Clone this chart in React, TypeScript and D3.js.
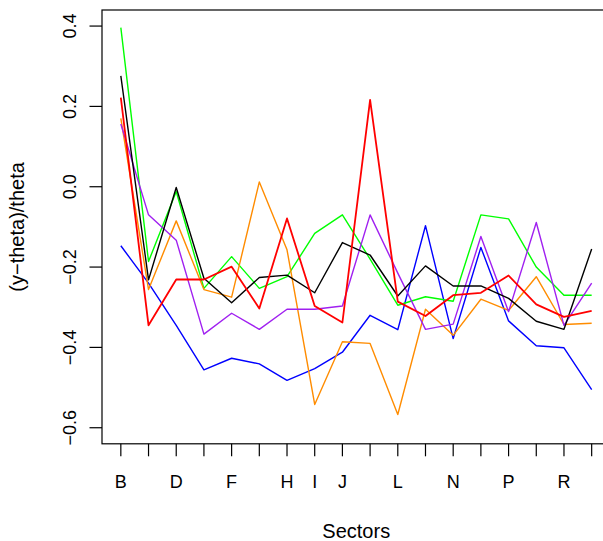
import React, { useEffect, useRef } from 'react';
import * as d3 from 'd3';

// sectors on the x axis (B..S)
const sectors = ['B', 'C', 'D', 'E', 'F', 'G', 'H', 'I', 'J', 'K', 'L', 'M', 'N', 'O', 'P', 'Q', 'R', 'S'];

// (y-theta)/theta per sector, one array per series
const blueVals = [-0.147, -0.24, -0.345, -0.456, -0.427, -0.441, -0.482, -0.453, -0.412, -0.32, -0.356, -0.097, -0.378, -0.151, -0.334, -0.396, -0.401, -0.505];
const greenVals = [0.396, -0.186, -0.012, -0.253, -0.174, -0.253, -0.224, -0.116, -0.07, -0.18, -0.295, -0.274, -0.285, -0.07, -0.08, -0.2, -0.27, -0.27];
const blackVals = [0.276, -0.232, -0.002, -0.228, -0.289, -0.226, -0.22, -0.264, -0.139, -0.17, -0.272, -0.197, -0.247, -0.247, -0.278, -0.335, -0.355, -0.155];
const orangeVals = [0.17, -0.256, -0.085, -0.256, -0.275, 0.012, -0.157, -0.542, -0.386, -0.39, -0.567, -0.305, -0.37, -0.28, -0.308, -0.224, -0.343, -0.34];
const purpleVals = [0.156, -0.07, -0.133, -0.367, -0.315, -0.355, -0.305, -0.305, -0.297, -0.07, -0.215, -0.355, -0.342, -0.124, -0.311, -0.089, -0.345, -0.24];
const redVals = [0.222, -0.345, -0.231, -0.231, -0.199, -0.303, -0.079, -0.297, -0.338, 0.216, -0.286, -0.322, -0.27, -0.264, -0.221, -0.293, -0.324, -0.309];

const series = [
  { name: 'blue', color: '#0000FF', values: blueVals, width: 1.4 },
  { name: 'green', color: '#00FF00', values: greenVals, width: 1.4 },
  { name: 'orange', color: '#FF8C00', values: orangeVals, width: 1.4 },
  { name: 'purple', color: '#A020F0', values: purpleVals, width: 1.4 },
  { name: 'black', color: '#000000', values: blackVals, width: 1.4 },
  { name: 'red', color: '#FF0000', values: redVals, width: 1.8 },
];

const yTicks = [-0.6, -0.4, -0.2, 0.0, 0.2, 0.4];
const yLim: [number, number] = [-0.6, 0.4];

const FONT = '"Liberation Sans", Arial, Helvetica, sans-serif';

export default function App() {
  const svgRef = useRef<SVGSVGElement>(null);
  const width = 603;
  const height = 541;

  useEffect(() => {
    if (!svgRef.current) return;
    const root = d3.select(svgRef.current);
    root.selectAll('*').remove();

    // R style 4% axis extension
    const n = sectors.length;
    const xPad = (n - 1) * 0.04;
    const yPad = (yLim[1] - yLim[0]) * 0.04;
    const box = { left: 102, right: 610.5, top: 10, bottom: 443.8 };

    const x = d3.scaleLinear().domain([1 - xPad, n + xPad]).range([box.left, box.right]);
    const y = d3.scaleLinear().domain([yLim[0] - yPad, yLim[1] + yPad]).range([box.bottom, box.top]);

    const line = d3
      .line<number>()
      .x((_, i) => x(i + 1))
      .y(d => y(d));

    series.forEach(s => {
      root
        .append('path')
        .attr('d', line(s.values)!)
        .attr('fill', 'none')
        .attr('stroke', s.color)
        .attr('stroke-width', s.width)
        .attr('stroke-linejoin', 'round');
    });

    // plot box
    root
      .append('rect')
      .attr('x', box.left)
      .attr('y', box.top)
      .attr('width', box.right - box.left)
      .attr('height', box.bottom - box.top)
      .attr('fill', 'none')
      .attr('stroke', '#000')
      .attr('stroke-width', 1.2);

    // x axis ticks + labels (skip overlapping labels like R)
    const xAxis = root.append('g');
    sectors.forEach((s, i) => {
      xAxis
        .append('line')
        .attr('x1', x(i + 1))
        .attr('x2', x(i + 1))
        .attr('y1', box.bottom)
        .attr('y2', box.bottom + 12.5)
        .attr('stroke', '#000')
        .attr('stroke-width', 1.2);
    });
    let lastRight = -Infinity;
    sectors.forEach((s, i) => {
      const t = xAxis
        .append('text')
        .attr('x', x(i + 1))
        .attr('y', 488)
        .attr('text-anchor', 'middle')
        .attr('font-family', FONT)
        .attr('font-size', 18)
        .attr('fill', '#000')
        .text(s);
      const w = (t.node() as SVGTextElement).getComputedTextLength();
      const left = x(i + 1) - w / 2;
      if (left - lastRight < 18) {
        t.remove();
      } else {
        lastRight = x(i + 1) + w / 2;
      }
    });

    // y axis
    const yAxis = root.append('g');
    yTicks.forEach(v => {
      yAxis
        .append('line')
        .attr('x1', box.left - 12.5)
        .attr('x2', box.left)
        .attr('y1', y(v))
        .attr('y2', y(v))
        .attr('stroke', '#000')
        .attr('stroke-width', 1.2);
      yAxis
        .append('text')
        .attr('transform', `translate(76, ${y(v)}) rotate(-90)`)
        .attr('text-anchor', 'middle')
        .attr('font-family', FONT)
        .attr('font-size', 18)
        .attr('fill', '#000')
        .text(d3.format('.1f')(v).replace('-', '\u2212'));
    });

    // axis titles
    root
      .append('text')
      .attr('x', (box.left + box.right) / 2)
      .attr('y', 538)
      .attr('text-anchor', 'middle')
      .attr('font-family', FONT)
      .attr('font-size', 20)
      .attr('fill', '#000')
      .text('Sectors');

    root
      .append('text')
      .attr('transform', `translate(24, ${(box.top + box.bottom) / 2}) rotate(-90)`)
      .attr('text-anchor', 'middle')
      .attr('font-family', FONT)
      .attr('font-size', 20)
      .attr('fill', '#000')
      .text('(y\u2212theta)/theta');
  }, []);

  return (
    <svg
      ref={svgRef}
      width={width}
      height={height}
      style={{ position: 'absolute', left: 0, top: 0, background: '#fff' }}
    ></svg>
  );
}
